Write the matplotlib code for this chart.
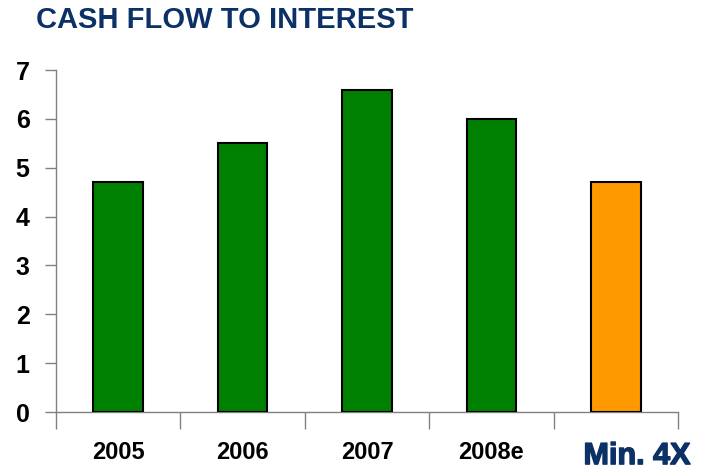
import matplotlib.pyplot as plt
import matplotlib.patheffects as pe
from matplotlib.transforms import blended_transform_factory

plt.rcParams['font.family'] = ['Liberation Sans', 'DejaVu Sans']

# Cash flow to interest coverage by year, plus the covenant minimum
categories = ["2005", "2006", "2007", "2008e", "Min. 4X"]
values = [4.7, 5.5, 6.6, 6.0, 4.7]
colors = ["#008000", "#008000", "#008000", "#008000", "#FF9900"]

navy = "#0B3166"
axis_grey = "#808080"

fig = plt.figure(figsize=(7.04, 4.72), dpi=100)
ax = fig.add_axes([56 / 704, 1 - 412 / 472, 622 / 704, 342 / 472])

x = range(len(categories))
ax.bar(x, values, width=0.4, color=colors, edgecolor="black", linewidth=1.5, zorder=3)

ax.set_xlim(-0.5, len(categories) - 0.5)
ax.set_ylim(0, 7)
ax.set_yticks(range(0, 8))

for side in ["top", "right"]:
    ax.spines[side].set_visible(False)
for side in ["left", "bottom"]:
    ax.spines[side].set_color(axis_grey)
    ax.spines[side].set_linewidth(1.0)

ax.tick_params(axis="y", length=8, width=1.0, color=axis_grey, pad=11,
               labelsize=18)
for lab in ax.get_yticklabels():
    lab.set_fontweight("bold")

# category separators below the axis, labels centred under the bars
ax.set_xticks([i - 0.5 for i in range(len(categories) + 1)], minor=True)
ax.tick_params(axis="x", which="minor", length=12, width=1.0, color=axis_grey)
ax.set_xticks(list(x)[:-1])
ax.set_xticklabels(categories[:-1], fontsize=17, fontweight="bold")
ax.tick_params(axis="x", which="major", length=0, pad=21)

# the minimum label sits a little right of its bar, larger and in navy
trans = blended_transform_factory(ax.transData, ax.transAxes)
ax.text(len(categories) - 1 + 0.17, -0.129, categories[-1], transform=trans,
        ha="center", va="center", fontsize=22, fontweight="bold", color=navy,
        path_effects=[pe.withStroke(linewidth=1.0, foreground=navy)])

fig.text(36 / 704, 1 - 20 / 472, "CASH FLOW TO INTEREST", ha="left", va="center",
         fontsize=21, fontweight="bold", color=navy)

fig.savefig("out.png", dpi=100)
